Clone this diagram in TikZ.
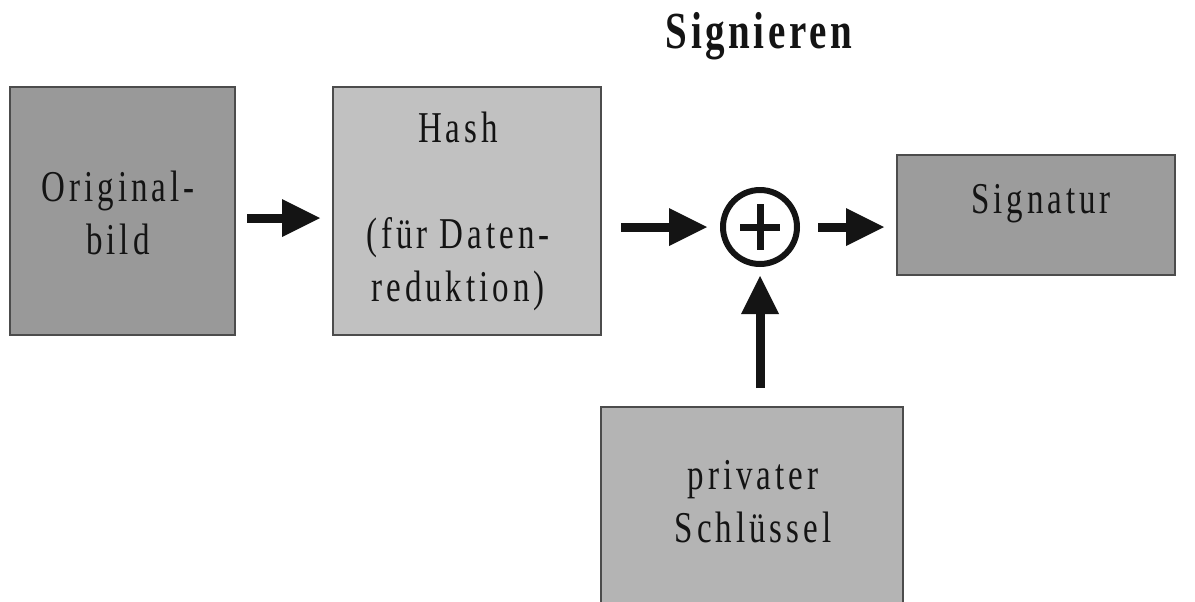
\documentclass[tikz,border=0pt]{standalone}
\usepackage{fontspec}
\setmainfont{Liberation Serif}[FakeStretch=0.75,LetterSpace=9]
\usepackage{tikz}
\usetikzlibrary{arrows.meta}
\definecolor{boxline}{gray}{0.3}
\definecolor{origfill}{gray}{0.6}
\definecolor{hashfill}{gray}{0.755}
\definecolor{sigfill}{gray}{0.61}
\definecolor{keyfill}{gray}{0.705}
\definecolor{inkc}{gray}{0.08}

\begin{document}
\begin{tikzpicture}[x=0.5pt,y=-0.5pt,
    box/.style={draw=boxline,line width=0.75pt,outer sep=0pt,inner sep=0pt},
    txt/.style={align=center,inner sep=0pt,text=inkc,font=\fontsize{22}{26.5}\selectfont},
    arr/.style={draw=inkc,line width=4.5pt,-{Triangle[length=19pt,width=19pt,line width=0pt]}}]
    \path[fill=white,use as bounding box] (0,0) rectangle (1195,601);
    % boxes
    \node[box,fill=origfill,minimum width=112.5pt,minimum height=124pt] (orig) at (122.5,211) {};
    \node[box,fill=hashfill,minimum width=134pt,minimum height=124pt] (hash) at (467,211) {};
    \node[box,fill=sigfill,minimum width=139pt,minimum height=60pt] (sig) at (1036,215) {};
    \node[box,fill=keyfill,minimum width=151pt,minimum height=99pt] (key) at (752,506) {};
    \node[draw=inkc,line width=3pt,circle,minimum size=37pt,inner sep=0pt] (plus) at (760,227) {};
    \draw[draw=inkc,line width=3.5pt] (plus.center) ++(-20,0) -- ++(40,0);
    \draw[draw=inkc,line width=3.5pt] (plus.center) ++(0,-23) -- ++(0,46);
    % texts
    \node[txt,font=\bfseries\fontsize{26}{30}\selectfont\addfontfeature{LetterSpace=7},anchor=base] (title) at (759,48) {Signieren};
    \node[txt] (origtxt) at (118,213) {Original-\\bild};
    \node[txt] (hashtxt) at (458,211) {Hash\\~\\(für Daten-\\reduktion)};
    \node[txt,anchor=base] (sigtxt) at (1041,213) {Signatur};
    \node[txt] (keytxt) at (753,502) {privater\\Schlüssel};
    % arrows
    \draw[arr,shorten <=6pt,shorten >=6.5pt] ([yshift=-3.5pt]orig.east) -- ([yshift=-3.5pt]hash.west);
    \draw[arr,shorten <=10pt,shorten >=6.5pt] (hash.east |- plus) -- (plus);
    \draw[arr,shorten <=9pt,shorten >=6.5pt] (plus) -- (plus -| sig.west);
    \draw[arr,shorten <=9.5pt,shorten >=4.5pt] (plus |- key.north) -- (plus);
\end{tikzpicture}
\end{document}
